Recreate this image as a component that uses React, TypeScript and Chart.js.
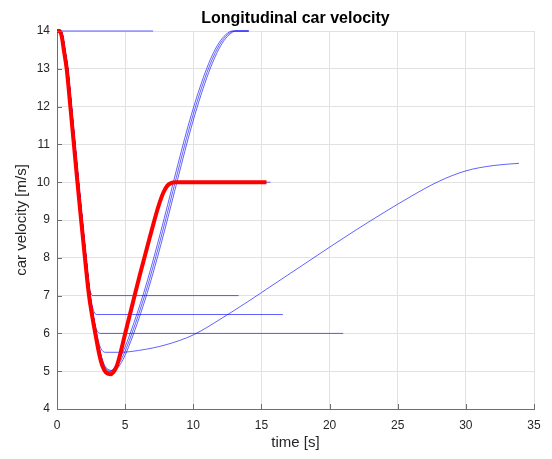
import React, { useEffect, useRef } from "react";
import { Chart, registerables } from "chart.js";

Chart.register(...registerables);

const titleText = "Longitudinal car velocity";
const xLabel = "time [s]";
const yLabel = "car velocity [m/s]";
const xTicks = [0, 5, 10, 15, 20, 25, 30, 35];
const yTicks = [4, 5, 6, 7, 8, 9, 10, 11, 12, 13, 14];

// highlighted run (red)
const redT = [0, 0.2, 0.35, 0.5, 0.71, 0.98, 1.24, 1.5, 1.77, 2.05, 2.35, 2.6, 2.85, 3.1, 3.35, 3.6, 3.9, 4.15, 4.4, 4.65, 4.95, 5.35, 5.75, 6.1, 6.47, 6.8, 7.1, 7.45, 7.8, 8.1, 8.4, 8.7, 15.37];
const redV = [14, 14, 13.85, 13.5, 13, 12, 11, 10, 9, 8, 7, 6.42, 5.92, 5.45, 5.12, 4.96, 4.92, 4.98, 5.15, 5.47, 5.92, 6.5, 7.08, 7.58, 8.08, 8.53, 8.93, 9.37, 9.72, 9.91, 9.98, 10, 10];

// other runs (blue)
const b0T = [0, 7.05];
const b0V = [14, 14];

const b1T = [0, 0.28, 0.43, 0.58, 0.79, 1.06, 1.32, 1.58, 1.85, 2.13, 2.33, 2.5, 2.65, 13.33];
const b1V = [14, 14, 13.85, 13.5, 13, 12, 11, 10, 9, 8, 7.3, 7.05, 7, 7];

const b2T = [0, 0.28, 0.43, 0.58, 0.79, 1.06, 1.32, 1.58, 1.85, 2.13, 2.43, 2.6, 2.76, 2.92, 16.57];
const b2V = [14, 14, 13.85, 13.5, 13, 12, 11, 10, 9, 8, 7, 6.7, 6.54, 6.5, 6.5];

const b3T = [0, 0.28, 0.43, 0.58, 0.79, 1.06, 1.32, 1.58, 1.85, 2.13, 2.43, 2.68, 2.88, 3.05, 3.2, 21.0];
const b3V = [14, 14, 13.85, 13.5, 13, 12, 11, 10, 9, 8, 7, 6.42, 6.12, 6.02, 6, 6];

const b4T = [0, 0.28, 0.43, 0.58, 0.79, 1.06, 1.32, 1.58, 1.85, 2.13, 2.43, 2.68, 2.93, 3.13, 3.33, 3.55, 4.6, 6, 8, 10, 12, 14, 16, 18, 20, 22, 24, 26, 28, 30, 32, 33.9];
const b4V = [14, 14, 13.85, 13.5, 13, 12, 11, 10, 9, 8, 7, 6.42, 5.95, 5.68, 5.54, 5.5, 5.5, 5.55, 5.7, 5.96, 6.38, 6.84, 7.32, 7.8, 8.28, 8.75, 9.2, 9.63, 10.02, 10.3, 10.44, 10.5];

const b5T = [0, 0.28, 0.43, 0.58, 0.79, 1.06, 1.32, 1.58, 1.85, 2.13, 2.43, 2.68, 2.93, 3.15, 3.38, 3.6, 3.84, 4.17, 4.57, 4.97, 5.37, 5.87, 6.37, 6.87, 7.37, 7.87, 8.37, 8.87, 9.37, 9.87, 10.37, 10.87, 11.37, 11.87, 12.37, 12.87, 14.07];
const b5V = [14, 14, 13.85, 13.5, 13, 12, 11, 10, 9, 8, 7, 6.42, 5.92, 5.5, 5.18, 5.04, 4.99, 5.08, 5.3, 5.62, 6.0, 6.52, 7.08, 7.7, 8.36, 9.05, 9.76, 10.47, 11.16, 11.8, 12.38, 12.9, 13.34, 13.68, 13.9, 14.0, 14.0];

const b6T = [0, 0.28, 0.43, 0.58, 0.79, 1.06, 1.32, 1.58, 1.85, 2.13, 2.43, 2.68, 2.93, 3.18, 3.43, 3.7, 3.97, 4.3, 4.7, 5.1, 5.5, 6.0, 6.5, 7.0, 7.5, 8.0, 8.5, 9.0, 9.5, 10.0, 10.5, 11.0, 11.5, 12.0, 12.5, 13.0, 14.07];
const b6V = [14, 14, 13.85, 13.5, 13, 12, 11, 10, 9, 8, 7, 6.42, 5.92, 5.48, 5.17, 5.03, 5.0, 5.08, 5.3, 5.62, 6.0, 6.52, 7.08, 7.7, 8.36, 9.05, 9.76, 10.47, 11.16, 11.8, 12.38, 12.9, 13.34, 13.68, 13.9, 14.0, 14.0];

const b7T = [0, 0.28, 0.43, 0.58, 0.79, 1.06, 1.32, 1.58, 1.85, 2.13, 2.43, 2.68, 2.93, 3.2, 3.5, 3.8, 4.1, 4.43, 4.83, 5.23, 5.63, 6.13, 6.63, 7.13, 7.63, 8.13, 8.63, 9.13, 9.63, 10.13, 10.63, 11.13, 11.63, 12.13, 12.63, 13.13, 14.07];
const b7V = [14, 14, 13.85, 13.5, 13, 12, 11, 10, 9, 8, 7, 6.42, 5.92, 5.47, 5.15, 5.04, 5.02, 5.08, 5.3, 5.62, 6.0, 6.52, 7.08, 7.7, 8.36, 9.05, 9.76, 10.47, 11.16, 11.8, 12.38, 12.9, 13.34, 13.68, 13.9, 14.0, 14.0];

const b8T = [0, 0.2, 0.35, 0.5, 0.71, 0.98, 1.24, 1.5, 1.77, 2.05, 2.35, 2.6, 2.85, 3.1, 3.35, 3.6, 3.9, 4.15, 4.4, 4.65, 4.95, 5.35, 5.75, 6.1, 6.47, 6.8, 7.1, 7.45, 7.8, 8.1, 8.4, 8.7, 15.66];
const b8V = [14, 14, 13.85, 13.5, 13, 12, 11, 10, 9, 8, 7, 6.42, 5.92, 5.45, 5.12, 4.96, 4.92, 4.98, 5.15, 5.47, 5.92, 6.5, 7.08, 7.58, 8.08, 8.53, 8.93, 9.37, 9.72, 9.91, 9.98, 10, 10];

const FONT = "'Liberation Sans', Arial, Helvetica, sans-serif";

function pts(t: number[], v: number[]) {
  return t.map((x, i) => ({ x, y: v[i] }));
}

const overlay = {
  id: "overlay",
  afterDraw(chart: any) {
    const { ctx, chartArea: a, scales } = chart;
    ctx.save();
    ctx.strokeStyle = "#6e6e6e";
    ctx.lineWidth = 1;
    ctx.beginPath();
    yTicks.forEach((v) => {
      const y = Math.round(scales.y.getPixelForValue(v)) + 0.5;
      ctx.moveTo(a.left, y);
      ctx.lineTo(a.left + 5, y);
    });
    xTicks.forEach((v) => {
      const x = Math.round(scales.x.getPixelForValue(v)) + 0.5;
      ctx.moveTo(x, a.bottom);
      ctx.lineTo(x, a.bottom - 5);
    });
    ctx.stroke();

    const cx = (a.left + a.right) / 2;
    ctx.fillStyle = "#000";
    ctx.textAlign = "center";
    ctx.textBaseline = "alphabetic";
    ctx.font = `bold 16px ${FONT}`;
    ctx.fillText(titleText, cx, 23);

    ctx.fillStyle = "#262626";
    ctx.font = `15px ${FONT}`;
    ctx.textBaseline = "middle";
    ctx.fillText(xLabel, cx, 443);

    ctx.translate(22, (a.top + a.bottom) / 2);
    ctx.rotate(-Math.PI / 2);
    ctx.fillText(yLabel, 0, 0);
    ctx.restore();
  },
};

export default function App() {
  const ref = useRef<HTMLCanvasElement>(null);

  useEffect(() => {
    const blue = "rgba(0,0,255,0.62)";
    const line = (t: number[], v: number[], color: string, width: number, order: number) => ({
      data: pts(t, v),
      borderColor: color,
      backgroundColor: color,
      borderWidth: width,
      pointRadius: 0,
      fill: false,
      cubicInterpolationMode: "monotone" as const,
      clip: 6,
      order,
    });

    const chart = new Chart(ref.current as HTMLCanvasElement, {
      type: "line",
      data: {
        datasets: [
          line(redT, redV, "#ff0000", 4, 0),
          line(b0T, b0V, blue, 1, 1),
          line(b1T, b1V, blue, 1, 1),
          line(b2T, b2V, blue, 1, 1),
          line(b3T, b3V, blue, 1, 1),
          line(b4T, b4V, blue, 1, 1),
          line(b5T, b5V, blue, 1, 1),
          line(b6T, b6V, blue, 1, 1),
          line(b7T, b7V, blue, 1, 1),
          line(b8T, b8V, blue, 1, 2),
        ] as any,
      },
      options: {
        responsive: false,
        animation: false,
        devicePixelRatio: 1,
        layout: { padding: { top: 31, right: 18, left: 0, bottom: 0 } },
        plugins: {
          legend: { display: false },
          title: { display: false },
          tooltip: { enabled: false },
        },
        scales: {
          x: {
            type: "linear",
            min: 0,
            max: 35,
            afterBuildTicks: (s: any) => {
              s.ticks = xTicks.map((value) => ({ value }));
            },
            afterFit: (s: any) => {
              s.height = 50;
            },
            grid: { color: "#e2e2e2", drawTicks: false },
            border: { color: "#6e6e6e" },
            ticks: {
              padding: 9,
              color: "#262626",
              maxRotation: 0,
              font: { family: FONT, size: 12 },
            },
          },
          y: {
            type: "linear",
            min: 4,
            max: 14,
            afterBuildTicks: (s: any) => {
              s.ticks = yTicks.map((value) => ({ value }));
            },
            afterFit: (s: any) => {
              s.width = 57;
            },
            grid: { color: "#e2e2e2", drawTicks: false },
            border: { color: "#6e6e6e" },
            ticks: {
              padding: 7,
              color: "#262626",
              font: { family: FONT, size: 12 },
            },
          },
        },
      } as any,
      plugins: [overlay],
    });
    return () => chart.destroy();
  }, []);

  return (
    <div style={{ position: "fixed", left: 0, top: 0, width: 552, height: 459, background: "#fff" }}>
      <canvas ref={ref} width={552} height={459} style={{ display: "block" }} />
    </div>
  );
}
